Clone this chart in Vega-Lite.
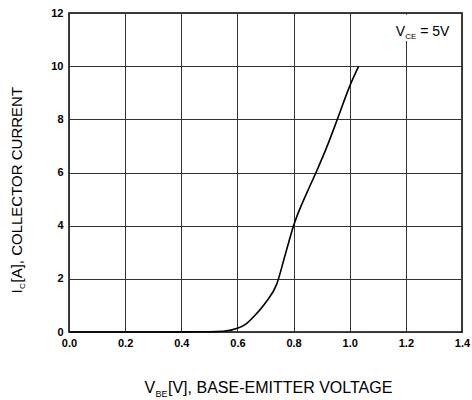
{
  "$schema": "https://vega.github.io/schema/vega-lite/v6.json",
  "width": 393,
  "height": 319,
  "autosize": {"type": "none"},
  "padding": {"left": 69, "top": 13, "right": 10, "bottom": 68},
  "background": "white",
  "config": {
    "view": {"stroke": "#000", "strokeWidth": 1.5},
    "font": "Liberation Sans",
    "axis": {
      "labelFont": "Liberation Sans",
      "labelFontWeight": "bold",
      "labelFontSize": 11,
      "labelColor": "#000",
      "titleFont": "Liberation Sans",
      "titleFontWeight": "normal",
      "titleColor": "#000",
      "titleFontSize": 16,
      "domain": false,
      "ticks": false,
      "gridColor": "#333",
      "gridOpacity": 1,
      "gridWidth": 1
    }
  },
  "datasets": {
    "curve": [
      {"vbe": 0.0, "ic": 0.0},
      {"vbe": 0.3, "ic": 0.0},
      {"vbe": 0.5, "ic": 0.01},
      {"vbe": 0.55, "ic": 0.03},
      {"vbe": 0.6, "ic": 0.14},
      {"vbe": 0.63, "ic": 0.3},
      {"vbe": 0.66, "ic": 0.6},
      {"vbe": 0.7, "ic": 1.1},
      {"vbe": 0.74, "ic": 1.8},
      {"vbe": 0.77, "ic": 2.9},
      {"vbe": 0.8, "ic": 4.0},
      {"vbe": 0.85, "ic": 5.3},
      {"vbe": 0.88, "ic": 6.0},
      {"vbe": 0.92, "ic": 7.0},
      {"vbe": 0.956, "ic": 8.0},
      {"vbe": 1.0, "ic": 9.25},
      {"vbe": 1.032, "ic": 10.0}
    ],
    "box": [{"x1": 1.12, "x2": 1.38, "y1": 10.95, "y2": 11.93}],
    "label": [{"x": 1.164, "y": 11.14}]
  },
  "resolve": {"axis": {"x": "independent", "y": "independent"}},
  "layer": [
    {
      "data": {"name": "box"},
      "mark": {"type": "rect", "fill": "white", "stroke": null},
      "encoding": {
        "x": {"field": "x1", "type": "quantitative", "scale": {"domain": [0, 1.4], "nice": false},
          "axis": {"orient": "bottom", "labels": false, "grid": false, "title": "BE", "titleFontSize": 9, "titleAlign": "left", "titleBaseline": "alphabetic", "titleX": 86, "titleY": 64}},
        "x2": {"field": "x2"},
        "y": {"field": "y1", "type": "quantitative", "scale": {"domain": [0, 12], "nice": false},
          "axis": {"orient": "left", "labels": false, "grid": false, "title": "C", "titleFontSize": 8, "titleAngle": -90, "titleAlign": "left", "titleBaseline": "alphabetic", "titleX": -45, "titleY": 275.5}},
        "y2": {"field": "y2"}
      }
    },
    {
      "data": {"name": "curve"},
      "mark": {"type": "line", "color": "#000", "strokeWidth": 1.6, "interpolate": "monotone"},
      "encoding": {
        "x": {"field": "vbe", "type": "quantitative", "scale": {"domain": [0, 1.4], "nice": false},
          "axis": {"orient": "bottom", "grid": true, "values": [0, 0.2, 0.4, 0.6, 0.8, 1.0, 1.2, 1.4], "format": ".1f", "labelPadding": 5, "labelFlush": false, "labelOverlap": false, "title": "V", "titleAlign": "left", "titleBaseline": "alphabetic", "titleX": 75, "titleY": 60}},
        "y": {"field": "ic", "type": "quantitative", "scale": {"domain": [0, 12], "nice": false},
          "axis": {"orient": "left", "grid": true, "values": [0, 2, 4, 6, 8, 10, 12], "format": "d", "labelPadding": 6, "labelFlush": false, "labelOverlap": false, "title": "I", "titleFontSize": 15, "titleAngle": -90, "titleAlign": "left", "titleBaseline": "alphabetic", "titleX": -48, "titleY": 280}}
      }
    },
    {
      "data": {"name": "label"},
      "mark": {"type": "text", "text": "V", "fontSize": 14, "align": "left", "baseline": "alphabetic", "color": "#000"},
      "encoding": {
        "x": {"field": "x", "type": "quantitative", "scale": {"domain": [0, 1.4], "nice": false},
          "axis": {"orient": "bottom", "labels": false, "grid": false, "title": "[V], BASE-EMITTER VOLTAGE", "titleAlign": "left", "titleBaseline": "alphabetic", "titleX": 98.5, "titleY": 60}},
        "y": {"field": "y", "type": "quantitative", "scale": {"domain": [0, 12], "nice": false},
          "axis": {"orient": "left", "labels": false, "grid": false, "title": "[A], COLLECTOR CURRENT", "titleFontSize": 15, "titleAngle": -90, "titleAlign": "left", "titleBaseline": "alphabetic", "titleX": -48, "titleY": 269}}
      }
    },
    {
      "data": {"name": "label"},
      "mark": {"type": "text", "text": "CE", "fontSize": 8, "align": "left", "baseline": "alphabetic", "dx": 9.5, "dy": 3, "color": "#000"},
      "encoding": {
        "x": {"field": "x", "type": "quantitative", "scale": {"domain": [0, 1.4], "nice": false}, "axis": null},
        "y": {"field": "y", "type": "quantitative", "scale": {"domain": [0, 12], "nice": false}, "axis": null}
      }
    },
    {
      "data": {"name": "label"},
      "mark": {"type": "text", "text": "= 5V", "fontSize": 14, "align": "left", "baseline": "alphabetic", "dx": 24.5, "color": "#000"},
      "encoding": {
        "x": {"field": "x", "type": "quantitative", "scale": {"domain": [0, 1.4], "nice": false}, "axis": null},
        "y": {"field": "y", "type": "quantitative", "scale": {"domain": [0, 12], "nice": false}, "axis": null}
      }
    }
  ]
}
